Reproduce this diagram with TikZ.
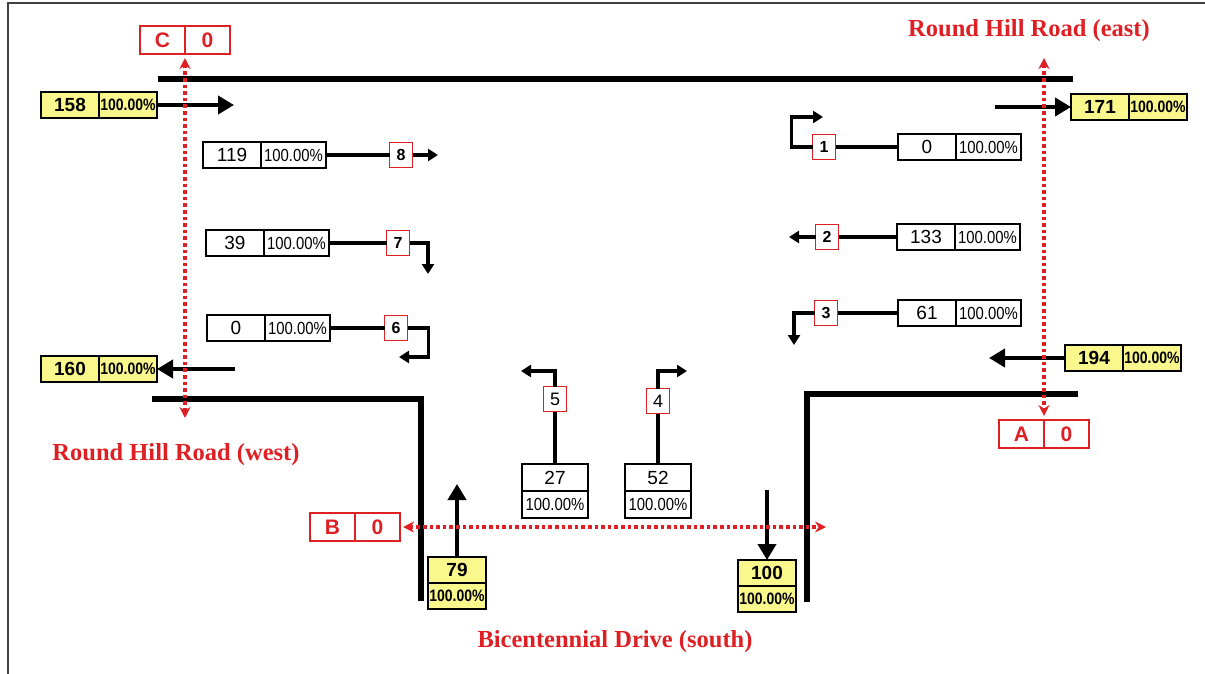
\documentclass[tikz,border=0pt]{standalone}
\usepackage{fontspec}
\setmainfont{Liberation Sans}
\newfontfamily\titlefont{Liberation Serif}
\newfontfamily\narrowfont[FakeStretch=0.85]{Liberation Sans}
\usetikzlibrary{positioning, arrows.meta}

\definecolor{hilite}{RGB}{250,247,140}
\definecolor{tred}{RGB}{222,32,36}

\begin{document}
\begin{tikzpicture}[
    x=1pt, y=-1pt,
    every node/.style={inner sep=0pt, outer sep=0pt},
    cnt/.style={rectangle, draw, line width=1.3pt, minimum width=58pt, minimum height=26pt, font=\fontsize{19}{19}\selectfont},
    pct/.style={rectangle, draw, line width=1.3pt, minimum width=65pt, minimum height=26pt, font=\narrowfont\fontsize{17.5}{17.5}\selectfont},
    ycnt/.style={cnt, fill=hilite, font=\fontsize{19}{19}\selectfont\bfseries},
    ypct/.style={pct, fill=hilite, minimum width=58pt, font=\narrowfont\fontsize{16.5}{16.5}\selectfont\bfseries},
    lane/.style={rectangle, draw=tred, line width=1.4pt, minimum width=23pt, minimum height=25pt, font=\fontsize{16}{16}\selectfont\bfseries},
    pedl/.style={rectangle, draw=tred, line width=1.4pt, text=tred, minimum width=45pt, minimum height=28pt, font=\fontsize{21}{21}\selectfont\bfseries},
    road/.style={line width=6pt},
    flow/.style={line width=4.5pt, -{Triangle[length=16pt, width=18pt]}},
    turn/.style={line width=3.3pt, -{Triangle[length=10pt, width=12pt]}},
    lead/.style={line width=3.3pt},
    xing/.style={tred, line width=3.6pt, dash pattern=on 3.6pt off 3pt, {Stealth[length=11pt, width=11pt]}-{Stealth[length=11pt, width=11pt]}},
    title/.style={text=tred, font=\titlefont\fontsize{24.5}{24.5}\selectfont\bfseries},
    frame/.style={line width=1.5pt, black!75}
]
\useasboundingbox (0,0) rectangle (1205,674);

% frame
\draw[frame] (8,674) -- (8,3) -- (1205,3);

% road edges
\draw[road] (158,79) -- (1073,79);
\draw[road] (152,399) -| (421,601);
\draw[road] (1078,394) -| (807,602);

% approach / departure volumes
\foreach \n/\x/\y/\v in {wIn/41/105/158, wOut/41/369/160, eOut/1071/107/171, eIn/1065/358/194} {
    \node[ycnt, anchor=west] (\n c) at (\x,\y) {\v};
    \node[ypct, right=0pt of \n c] (\n p) {100.00\%};
}
\node[ycnt, anchor=north] (sInc) at (457,557) {79};
\node[ypct, below=0pt of sInc] (sInp) {100.00\%};
\node[ycnt, anchor=north] (sOutc) at (767,560) {100};
\node[ypct, below=0pt of sOutc] (sOutp) {100.00\%};

\coordinate (wInEnd) at (234,105);
\coordinate (wOutSt) at (235,369);
\coordinate (eOutSt) at (995,107);
\coordinate (eInEnd) at (989,358);
\coordinate (sInEnd) at (457,484);
\coordinate (sOutSt) at (767,490);
\draw[flow] (wInp.east) -- (wInEnd);
\draw[flow] (wOutSt) -- (wOutp.east);
\draw[flow] (eOutSt) -- (eOutc.west);
\draw[flow] (eInc.west) -- (eInEnd);
\draw[flow] (sInc.north) -- (sInEnd);
\draw[flow] (sOutSt) -- (sOutc.north);

% turning movements
\foreach \n/\x/\y/\v in {8/203/155/119, 7/206/243/39, 6/207/328/0, 1/898/147/0, 2/897/237/133, 3/898/313/61} {
    \node[cnt, anchor=west] (c\n) at (\x,\y) {\v};
    \node[pct, right=0pt of c\n] (p\n) {100.00\%};
}
\foreach \n/\x/\y in {8/401/155, 7/398/243, 6/396/328, 1/824/147, 2/827/237, 3/826/313} {
    \node[lane] (l\n) at (\x,\y) {\n};
}
\foreach \n in {8,7,6} {
    \draw[lead] (p\n.east) -- (l\n.west);
}
\foreach \n in {1,2,3} {
    \draw[lead] (c\n.west) -- (l\n.east);
}

\node[cnt, minimum width=66pt, minimum height=27pt, anchor=north] (c5) at (555,464) {27};
\node[pct, minimum width=66pt, minimum height=27pt, below=0pt of c5] (p5) {100.00\%};
\node[cnt, minimum width=66pt, minimum height=27pt, anchor=north] (c4) at (658,464) {52};
\node[pct, minimum width=66pt, minimum height=27pt, below=0pt of c4] (p4) {100.00\%};
\node[lane, font=\fontsize{18}{18}\selectfont] (l5) at (555,399) {5};
\node[lane, font=\fontsize{18}{18}\selectfont] (l4) at (658,401) {4};
\draw[lead] (c5.north) -- (l5.south);
\draw[lead] (c4.north) -- (l4.south);

\coordinate (t8) at (438,155);
\coordinate (t7) at (428,274);
\coordinate (t6) at (399,357);
\coordinate (t1) at (823,117);
\coordinate (t2) at (789,237);
\coordinate (t3) at (794,345);
\coordinate (t5) at (521,371);
\coordinate (t4) at (687,371);
\draw[turn] (l8.east) -- (t8);
\draw[turn] (l7.east) -| (t7);
\draw[turn] (l6.east) -- ++(21,0) |- (t6);
\draw[turn] (l1.west) -- ++(-21,0) |- (t1);
\draw[turn] (l2.west) -- (t2);
\draw[turn] (l3.west) -| (t3);
\draw[turn] (l5.north) |- (t5);
\draw[turn] (l4.north) |- (t4);

% pedestrian crossings
\node[pedl, anchor=east] (Cl) at (185,40) {C};
\node[pedl, right=0pt of Cl] (Cr) {0};
\node[pedl, anchor=east] (Al) at (1044,434) {A};
\node[pedl, right=0pt of Al] (Ar) {0};
\node[pedl, anchor=east] (Bl) at (355,527) {B};
\node[pedl, right=0pt of Bl] (Br) {0};

\coordinate (Cend) at (185,418);
\coordinate (Aend) at (1044,58);
\coordinate (Bend) at (826,527);
\draw[xing] ([yshift=-4pt]Cl.south east) -- (Cend);
\draw[xing] (Aend) -- ([yshift=4pt]Al.north east);
\draw[xing] ([xshift=3pt]Br.east) -- (Bend);

% street names
\node[title] (westName) at (176,455) {Round Hill Road (west)};
\node[title] (eastName) at (1029,31) {Round Hill Road (east)};
\node[title] (southName) at (615,642) {Bicentennial Drive (south)};

\end{tikzpicture}
\end{document}
